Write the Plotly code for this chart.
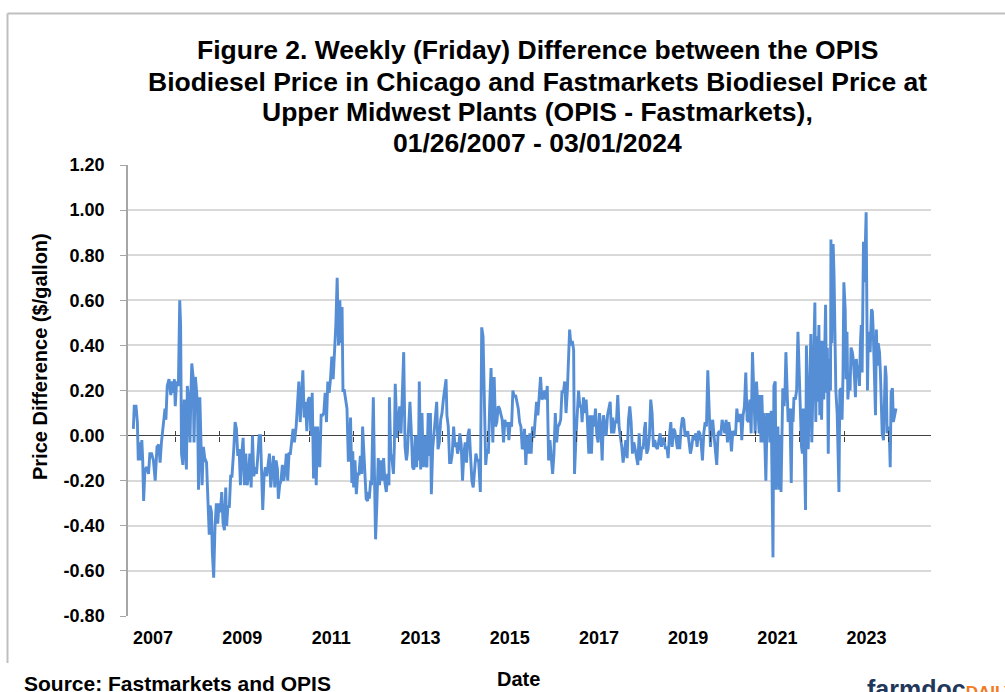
import datetime as dt
import plotly.graph_objects as go

# ---------------- data ----------------
# decimal-year position of each plotted weekly observation
week_year = [
    2007.06, 2007.08, 2007.12, 2007.15, 2007.17, 2007.19, 2007.22, 2007.25, 2007.27, 2007.29,
    2007.32, 2007.36, 2007.40, 2007.43, 2007.47, 2007.51, 2007.55, 2007.59, 2007.63, 2007.66,
    2007.69, 2007.73, 2007.77, 2007.79, 2007.82, 2007.86, 2007.90, 2007.93, 2007.96, 2007.98,
    2008.00, 2008.03, 2008.07, 2008.10, 2008.12, 2008.14, 2008.17, 2008.20, 2008.22, 2008.25,
    2008.27, 2008.30, 2008.33, 2008.35, 2008.37, 2008.40, 2008.42, 2008.45, 2008.48, 2008.50,
    2008.52, 2008.55, 2008.58, 2008.60, 2008.63, 2008.66, 2008.70, 2008.73, 2008.76, 2008.78,
    2008.81, 2008.83, 2008.86, 2008.89, 2008.92, 2008.95, 2008.98, 2009.01, 2009.04, 2009.07,
    2009.10, 2009.13, 2009.15, 2009.18, 2009.21, 2009.24, 2009.27, 2009.31, 2009.34, 2009.37,
    2009.40, 2009.43, 2009.46, 2009.49, 2009.52, 2009.55, 2009.58, 2009.61, 2009.64, 2009.67,
    2009.70, 2009.73, 2009.76, 2009.79, 2009.82, 2009.85, 2009.88, 2009.91, 2009.93, 2009.96,
    2009.99, 2010.02, 2010.05, 2010.08, 2010.11, 2010.14, 2010.17, 2010.20, 2010.23, 2010.26,
    2010.29, 2010.31, 2010.34, 2010.37, 2010.40, 2010.43, 2010.46, 2010.49, 2010.52, 2010.55,
    2010.58, 2010.61, 2010.64, 2010.67, 2010.71, 2010.74, 2010.77, 2010.80, 2010.83, 2010.86,
    2010.89, 2010.92, 2010.95, 2010.98, 2011.01, 2011.04, 2011.07, 2011.10, 2011.13, 2011.16,
    2011.19, 2011.21, 2011.24, 2011.27, 2011.30, 2011.33, 2011.36, 2011.39, 2011.42, 2011.45,
    2011.48, 2011.51, 2011.54,
    2011.57, 2011.60, 2011.63, 2011.66, 2011.69, 2011.72, 2011.74, 2011.76, 2011.79, 2011.82,
    2011.85, 2011.88, 2011.90, 2011.93, 2011.96, 2011.98, 2012.00, 2012.03, 2012.06, 2012.09,
    2012.12, 2012.15, 2012.18, 2012.20, 2012.22, 2012.25, 2012.28, 2012.31, 2012.33, 2012.35,
    2012.38, 2012.40, 2012.44, 2012.47, 2012.49, 2012.52, 2012.55, 2012.58, 2012.61, 2012.64,
    2012.67, 2012.70, 2012.73, 2012.76, 2012.79, 2012.80, 2012.83, 2012.86, 2012.89, 2012.91,
    2012.93, 2012.96, 2012.98, 2013.00, 2013.03, 2013.06, 2013.09, 2013.12, 2013.15, 2013.18,
    2013.20, 2013.23, 2013.26, 2013.29, 2013.32, 2013.35, 2013.38, 2013.41, 2013.43, 2013.45,
    2013.47, 2013.50, 2013.53, 2013.56, 2013.59, 2013.62, 2013.64, 2013.67, 2013.70, 2013.72,
    2013.74, 2013.77, 2013.80, 2013.83, 2013.86, 2013.89, 2013.92, 2013.95, 2013.98, 2014.01,
    2014.04, 2014.07, 2014.09, 2014.12, 2014.15, 2014.18, 2014.21, 2014.24, 2014.27, 2014.30,
    2014.33, 2014.35, 2014.38, 2014.41, 2014.44, 2014.47, 2014.50, 2014.53, 2014.56, 2014.59,
    2014.62, 2014.65, 2014.68, 2014.71, 2014.74, 2014.77, 2014.80, 2014.84, 2014.87, 2014.90,
    2014.93, 2014.96, 2014.99, 2015.02, 2015.05, 2015.08, 2015.11, 2015.12, 2015.15, 2015.18,
    2015.21, 2015.24, 2015.27, 2015.30, 2015.33, 2015.36, 2015.39, 2015.42, 2015.45, 2015.48,
    2015.51, 2015.54, 2015.57, 2015.60, 2015.63, 2015.66, 2015.69, 2015.72, 2015.75, 2015.78,
    2015.80, 2015.83, 2015.86, 2015.89, 2015.92, 2015.95, 2015.98, 2016.01, 2016.04, 2016.07,
    2016.10, 2016.13, 2016.16, 2016.19, 2016.22, 2016.25, 2016.28, 2016.31, 2016.34, 2016.37,
    2016.40, 2016.43, 2016.46, 2016.49, 2016.52, 2016.55, 2016.58, 2016.61, 2016.64, 2016.67,
    2016.70, 2016.73, 2016.76, 2016.79, 2016.82, 2016.84, 2016.87, 2016.90, 2016.93, 2016.95,
    2016.98, 2017.01, 2017.04, 2017.07, 2017.10, 2017.12, 2017.15, 2017.18, 2017.21, 2017.24,
    2017.27, 2017.30, 2017.33, 2017.36, 2017.39, 2017.42, 2017.45, 2017.48, 2017.51, 2017.54,
    2017.57, 2017.60, 2017.63, 2017.66, 2017.69, 2017.72, 2017.75, 2017.78, 2017.81, 2017.83,
    2017.86, 2017.89, 2017.92, 2017.95, 2017.98, 2018.01, 2018.04, 2018.07, 2018.10, 2018.13,
    2018.16, 2018.19, 2018.22, 2018.25, 2018.28, 2018.31, 2018.34, 2018.37, 2018.40, 2018.43,
    2018.46, 2018.49, 2018.52, 2018.54, 2018.57, 2018.60, 2018.63, 2018.66, 2018.69, 2018.72,
    2018.75, 2018.78, 2018.81, 2018.84, 2018.87, 2018.90, 2018.93, 2018.96, 2018.99, 2019.02,
    2019.05, 2019.08, 2019.11, 2019.14, 2019.17, 2019.20, 2019.23, 2019.26, 2019.28, 2019.31,
    2019.34, 2019.37, 2019.40, 2019.43, 2019.46, 2019.49, 2019.52, 2019.55, 2019.58, 2019.61,
    2019.64, 2019.67, 2019.70, 2019.73, 2019.76, 2019.79, 2019.82, 2019.85, 2019.88, 2019.91,
    2019.94, 2019.97, 2020.00, 2020.02, 2020.05, 2020.08, 2020.11, 2020.14, 2020.17, 2020.20,
    2020.23, 2020.26, 2020.29, 2020.32, 2020.35, 2020.38, 2020.41, 2020.44, 2020.47, 2020.50,
    2020.53, 2020.56, 2020.59, 2020.62, 2020.65, 2020.68, 2020.70, 2020.73, 2020.76, 2020.79,
    2020.82, 2020.85, 2020.88, 2020.91, 2020.94, 2020.97, 2021.00, 2021.03, 2021.06, 2021.09,
    2021.11, 2021.13, 2021.15, 2021.18, 2021.20, 2021.22, 2021.24, 2021.27, 2021.29, 2021.31,
    2021.33, 2021.36, 2021.38, 2021.40, 2021.42, 2021.45, 2021.47, 2021.49, 2021.51, 2021.54,
    2021.56, 2021.58, 2021.60, 2021.62, 2021.65, 2021.67, 2021.69, 2021.72, 2021.74, 2021.76,
    2021.78, 2021.81, 2021.83, 2021.85, 2021.87, 2021.90, 2021.93, 2021.96, 2021.99, 2022.01,
    2022.04, 2022.06, 2022.08, 2022.10, 2022.13, 2022.15, 2022.17, 2022.19, 2022.22, 2022.25,
    2022.27, 2022.29, 2022.31, 2022.34, 2022.36, 2022.38, 2022.40, 2022.43, 2022.45, 2022.47,
    2022.49, 2022.52, 2022.54, 2022.56, 2022.58, 2022.60, 2022.62, 2022.64, 2022.66, 2022.69,
    2022.70, 2022.72, 2022.75, 2022.77, 2022.79, 2022.81, 2022.84, 2022.86, 2022.88, 2022.90,
    2022.93, 2022.95, 2022.97, 2022.99, 2023.02, 2023.04, 2023.06, 2023.08, 2023.11, 2023.13,
    2023.15, 2023.18, 2023.20, 2023.23, 2023.25, 2023.27, 2023.29, 2023.31, 2023.34, 2023.36,
    2023.38, 2023.40, 2023.43, 2023.45, 2023.47, 2023.49, 2023.52, 2023.54, 2023.56, 2023.58,
    2023.61, 2023.63, 2023.65, 2023.67, 2023.70, 2023.72, 2023.74, 2023.76, 2023.79, 2023.81,
    2023.83, 2023.85, 2023.88, 2023.90, 2023.92, 2023.94, 2023.96, 2023.99, 2024.01, 2024.03,
    2024.05, 2024.08, 2024.10, 2024.16,
]

# OPIS - Fastmarkets price difference, $/gallon
price_diff = [
    0.03, 0.13, 0.13, 0.06, -0.11, -0.03, -0.11, -0.02, -0.11, -0.29,
    -0.15, -0.14, -0.17, -0.08, -0.08, -0.11, -0.20, -0.05, -0.04, -0.12,
    -0.03, 0.06, 0.12, 0.07, 0.22, 0.25, 0.18, 0.24, 0.19, 0.25,
    0.13, 0.24, 0.22, 0.60, 0.49, -0.08, -0.13, 0.16, -0.03, -0.15,
    0.22, 0.16, -0.03, 0.19, 0.32, 0.26, -0.03, 0.26, 0.19, 0.10,
    -0.24, 0.17, -0.06, -0.22, -0.05, -0.10, -0.12, -0.31, -0.44, -0.31,
    -0.34, -0.52, -0.63, -0.40, -0.30, -0.39, -0.30, -0.34, -0.25, -0.39,
    -0.42, -0.23, -0.40, -0.31, -0.32, -0.18, -0.18, -0.06, 0.06, 0.03,
    -0.09, -0.06, -0.22, -0.08, -0.01, -0.22, -0.08, -0.22, -0.18, -0.08,
    -0.23, 0.00, -0.18, -0.14, -0.17, -0.09, 0.00, 0.00, -0.14, -0.33,
    -0.18, -0.14, -0.18, -0.12, -0.08, -0.23, -0.17, -0.09, -0.23, -0.11,
    -0.15, -0.28, -0.22, -0.20, -0.13, -0.20, -0.16, -0.08, -0.20, -0.08,
    -0.08, -0.01, 0.03, -0.03, 0.04, 0.14, 0.24, 0.06, 0.20, 0.29,
    0.08, 0.15, 0.02, 0.16, 0.17, 0.00, 0.19, -0.19, 0.04, -0.22,
    0.04, -0.08, -0.14, 0.09, 0.09, 0.10, 0.19, 0.06, 0.24, 0.19,
    0.25, 0.35, 0.25,
    0.36, 0.49, 0.70, 0.40, 0.60, 0.41, 0.57, 0.20, 0.20, 0.16,
    0.12, -0.11, -0.11, 0.08, -0.21, -0.07, -0.23, -0.11, -0.26, -0.17,
    -0.17, -0.09, -0.17, 0.04, -0.05, -0.20, -0.28, -0.29, -0.25, -0.28,
    -0.20, -0.22, 0.17, -0.23, -0.46, -0.30, -0.10, -0.22, -0.11, -0.20,
    -0.10, -0.21, -0.25, -0.17, -0.22, 0.17, -0.08, -0.11, -0.17, -0.05,
    0.23, 0.07, -0.01, 0.06, 0.13, 0.01, 0.16, 0.37, -0.05, -0.11,
    -0.08, 0.04, 0.15, 0.02, -0.14, -0.15, 0.00, -0.14, 0.00, -0.11,
    0.24, -0.15, 0.10, -0.14, 0.00, -0.13, -0.14, 0.10, -0.09, 0.10,
    -0.26, -0.06, 0.01, 0.10, 0.15, -0.06, -0.03, 0.07, 0.10, 0.16,
    0.20, 0.25, 0.09, 0.04, -0.12, -0.12, -0.08, 0.04, -0.05, -0.03,
    -0.08, -0.06, 0.01, -0.04, -0.20, -0.08, -0.03, -0.12, 0.00, 0.03,
    -0.09, -0.20, -0.23, -0.15, -0.08, -0.11, -0.11, -0.25, 0.48, 0.44,
    0.17, -0.13, -0.06, -0.08, 0.14, 0.30, 0.03, -0.03, 0.26, 0.04,
    0.06, 0.13, 0.12, 0.10, 0.07, -0.03, 0.07, 0.04, 0.06, -0.02,
    0.06, 0.04, 0.20, 0.17, 0.18, 0.15, 0.12, 0.06, 0.04, -0.06,
    -0.05, 0.03, -0.13, 0.00, -0.08, 0.01, -0.08, 0.04, -0.01, 0.07,
    0.15, 0.09, 0.19, 0.26, 0.16, 0.17, 0.20, 0.16, 0.22, -0.11,
    -0.02, -0.11, -0.17, -0.08, 0.10, -0.03, 0.04, 0.05, 0.07, 0.20,
    0.19, 0.24, 0.10, 0.20, 0.34, 0.47, 0.40, 0.42, 0.38, -0.17,
    -0.02, 0.07, 0.20, 0.13, 0.13, 0.06, 0.17, 0.10, 0.16, 0.06,
    -0.08, 0.09, -0.08, 0.09, 0.04, 0.12, 0.00, -0.03, 0.10, 0.04,
    -0.11, 0.09, 0.03, 0.00, 0.09, 0.12, 0.15, 0.01, 0.08, 0.01,
    0.06, 0.06, 0.18, 0.04, 0.00, -0.05, -0.12, -0.06, -0.02, -0.10,
    0.07, 0.13, 0.06, -0.08, -0.03, -0.06, -0.09, -0.13, 0.01, -0.11,
    -0.05, -0.06, 0.03, 0.06, -0.08, -0.06, 0.00, 0.16, 0.10, -0.05,
    -0.02, -0.05, -0.06, -0.03, 0.01, -0.05, -0.01, -0.02, -0.06, -0.05,
    -0.10, 0.00, 0.06, -0.05, 0.03, 0.02, -0.02, -0.06, 0.00, -0.06,
    0.03, 0.08, 0.07, 0.00, 0.00, 0.02, -0.03, -0.08, -0.05, 0.00,
    -0.02, 0.01, -0.05, 0.02, 0.01, -0.03, -0.11, 0.01, 0.06, 0.04,
    0.29, 0.06, -0.05, 0.03, 0.07, 0.00, -0.08, -0.13, 0.01, 0.02,
    0.00, 0.07, 0.04, 0.01, 0.07, -0.03, 0.06, 0.01, -0.07, 0.02,
    0.01, 0.00, 0.12, 0.06, 0.09, 0.09, -0.02, 0.09, 0.13, 0.28,
    0.07, 0.06, 0.16, 0.01, 0.37, 0.19, 0.01, 0.24, 0.10, 0.01,
    0.18, -0.03, 0.18, -0.03, 0.10, -0.08, -0.20, 0.10, 0.06, 0.10,
    -0.03, 0.11, -0.24, -0.54, 0.22, 0.24, -0.24, -0.11, 0.04, -0.24,
    0.00, -0.25, 0.00, 0.21, 0.13, 0.20, 0.37, 0.16, 0.06, 0.12,
    0.10, -0.21, 0.12, 0.06, 0.17, 0.16, 0.20, 0.46, 0.25, 0.19,
    -0.05, -0.08, 0.12, -0.05, -0.33, 0.40, 0.10, -0.06, 0.20, 0.45,
    -0.03, 0.13, 0.22, 0.59, 0.06, 0.44, 0.15, 0.49, 0.09, 0.42,
    0.07, 0.42, 0.16, 0.31, 0.58, 0.19, 0.39, -0.08, 0.34, 0.20,
    0.87, 0.41, 0.85, 0.71, 0.41, 0.20, 0.10, -0.06, -0.25, 0.20,
    0.21, 0.07, 0.26, 0.68, 0.56, 0.25, 0.46, 0.16, 0.26, 0.20,
    0.39, 0.37, 0.34, 0.25, 0.17, 0.34, 0.28, 0.31, 0.22, 0.40,
    0.49, 0.28, 0.86, 0.68, 0.93, 0.99, 0.20, 0.46, 0.43, 0.37,
    0.56, 0.55, 0.46, 0.28, 0.09, 0.47, 0.31, 0.41, 0.37, 0.28,
    0.10, 0.01, -0.02, 0.10, 0.31, 0.26, 0.01, 0.04, 0.01, -0.14,
    0.19, 0.21, 0.06, 0.12,
]

year_labels = ["2007", "2009", "2011", "2013", "2015", "2017", "2019", "2021", "2023"]
year_boundaries = list(range(2008, 2025))
y_tick_values = [-0.8, -0.6, -0.4, -0.2, 0.0, 0.2, 0.4, 0.6, 0.8, 1.0, 1.2]
y_tick_labels = ["-0.80", "-0.60", "-0.40", "-0.20", "0.00", "0.20", "0.40",
                 "0.60", "0.80", "1.00", "1.20"]

title_lines = [
    "Figure 2. Weekly (Friday) Difference between the OPIS",
    "Biodiesel Price in Chicago and Fastmarkets Biodiesel Price at",
    "Upper Midwest Plants (OPIS - Fastmarkets),",
    "01/26/2007 - 03/01/2024",
]

assert len(week_year) == len(price_diff)


def to_date(y):
    yr = int(y)
    start = dt.datetime(yr, 1, 1)
    end = dt.datetime(yr + 1, 1, 1)
    return start + (end - start) * (y - yr)


dates = [to_date(y) for y in week_year]

# ---------------- layout geometry (pixels) ----------------
W, H = 1005, 692
L, R, T, B = 128, 931, 165, 616
Y_MIN, Y_MAX = -0.8, 1.2


def px(x):
    return (x - L) / (R - L)


def py(y):
    return (B - y) / (B - T)


FONT = "Liberation Sans, Arial, sans-serif"
x_range = [dt.datetime(2006, 12, 10), dt.datetime(2024, 12, 11)]

fig = go.Figure()
fig.add_trace(go.Scatter(
    x=dates, y=price_diff, mode="lines",
    line=dict(color="#558ED5", width=2.9),
    showlegend=False, hoverinfo="x+y",
))
# helper traces so the crossing year-tick axes render on the zero line
for ax in ("x2", "x3"):
    fig.add_trace(go.Scatter(
        x=[dates[0]], y=[price_diff[0]], xaxis=ax, mode="markers",
        marker=dict(opacity=0), showlegend=False, hoverinfo="skip",
    ))

zero_pos = (0 - Y_MIN) / (Y_MAX - Y_MIN)
tick_common = dict(
    overlaying="x", anchor="free", position=zero_pos, type="date",
    range=x_range, tickmode="array",
    tickvals=[dt.datetime(y, 1, 1) for y in year_boundaries],
    showticklabels=False, showgrid=False, zeroline=False, showline=False,
    ticklen=5, tickwidth=1, tickcolor="#404040",
)

fig.update_layout(
    width=W, height=H,
    margin=dict(l=L, r=W - R, t=T, b=H - B, pad=0),
    paper_bgcolor="white", plot_bgcolor="white",
    showlegend=False,
    xaxis=dict(
        type="date", range=x_range, tickmode="array",
        tickvals=[dt.datetime(int(y), 7, 2) for y in year_labels],
        ticktext=year_labels, ticks="", showgrid=False, zeroline=False,
        showline=False, ticklabelstandoff=9,
        tickfont=dict(family=FONT, size=18, color="black", weight="bold"),
    ),
    xaxis2=dict(ticks="outside", **tick_common),
    xaxis3=dict(ticks="inside", **tick_common),
    yaxis=dict(
        range=[Y_MIN, Y_MAX], tickmode="array",
        tickvals=y_tick_values, ticktext=y_tick_labels,
        showgrid=True, gridcolor="#D9D9D9", gridwidth=1.5,
        zeroline=True, zerolinecolor="#404040", zerolinewidth=1.2,
        showline=True, linecolor="#A6A6A6", linewidth=1.5,
        ticks="outside", ticklen=6, tickcolor="#A6A6A6", tickwidth=1.2,
        ticklabelstandoff=12,
        tickfont=dict(family=FONT, size=18, color="black", weight="bold"),
    ),
)

annotations = []
for text, ypix in zip(title_lines, [50, 81.5, 112.5, 143]):
    annotations.append(dict(
        text=text, x=px(537), y=py(ypix), xref="paper", yref="paper",
        xanchor="center", yanchor="middle", showarrow=False,
        font=dict(family=FONT, size=26.5, color="black", weight="bold"),
    ))
annotations += [
    dict(text="Price Difference ($/gallon)", textangle=-90,
         x=px(40), y=py(357), xref="paper", yref="paper",
         xanchor="center", yanchor="middle", showarrow=False,
         font=dict(family=FONT, size=20, color="black", weight="bold")),
    dict(text="Date", x=px(518), y=py(679), xref="paper", yref="paper",
         xanchor="center", yanchor="middle", showarrow=False,
         font=dict(family=FONT, size=20, color="black", weight="bold")),
    dict(text="Source: Fastmarkets and OPIS", x=px(22), y=py(683),
         xref="paper", yref="paper", xanchor="left", yanchor="middle",
         showarrow=False,
         font=dict(family=FONT, size=21, color="black", weight="bold")),
    dict(text="<span style='color:#22375A'>farmdoc</span>"
              "<span style='color:#F47920;font-size:17px'>DAILY</span>",
         x=px(865), y=py(673), xref="paper", yref="paper",
         xanchor="left", yanchor="top", showarrow=False,
         font=dict(family=FONT, size=25, weight="bold")),
]
fig.update_layout(annotations=annotations)

# outer chart border (cropped Excel chart frame)
fig.add_shape(type="line", xref="paper", yref="paper",
              x0=px(7.5), x1=px(1010), y0=py(13.5), y1=py(13.5),
              line=dict(color="#BFBFBF", width=2))
fig.add_shape(type="line", xref="paper", yref="paper",
              x0=px(7.5), x1=px(7.5), y0=py(13.5), y1=py(663),
              line=dict(color="#BFBFBF", width=2))

fig.write_html(
    "out.html",
    config={"displayModeBar": False},
    post_script="document.body.style.margin='0';"
                "document.body.style.overflow='hidden';",
)
